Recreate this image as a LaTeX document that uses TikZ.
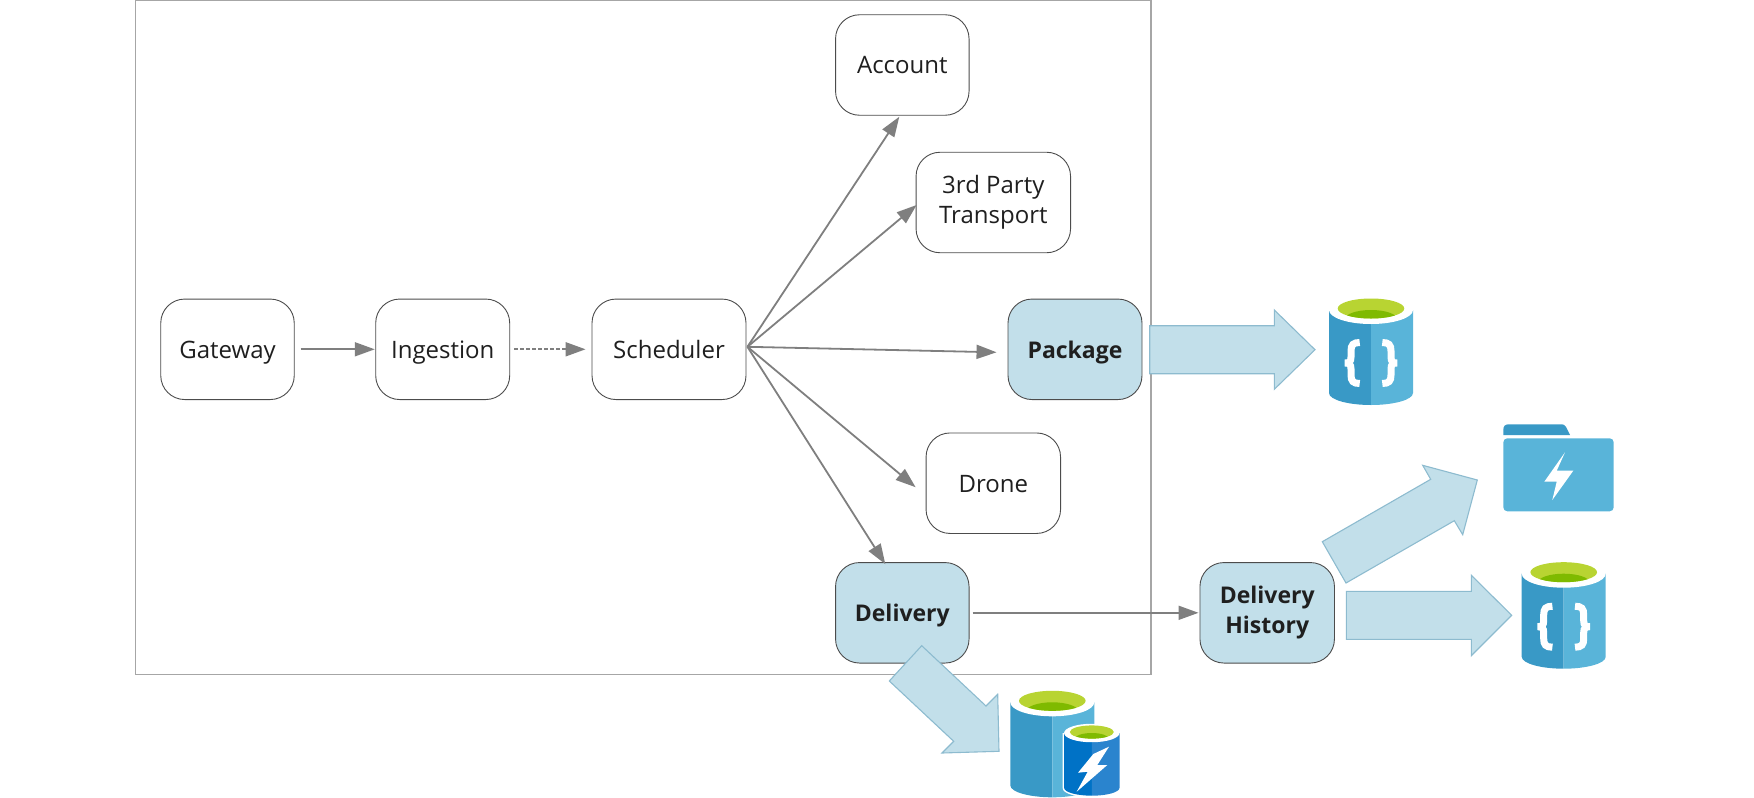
\documentclass[tikz,border=0pt]{standalone}
\usepackage{fontspec}
\setmainfont{Open Sans}
\usetikzlibrary{arrows.meta,calc}
\definecolor{boxfill}{HTML}{C2DFEA}
\definecolor{arrowline}{HTML}{8DBBCF}
\definecolor{conn}{HTML}{7F7F7F}
\definecolor{azdark}{HTML}{3999C6}
\definecolor{azlight}{HTML}{59B4D9}
\definecolor{lime}{HTML}{B8D432}
\definecolor{limedark}{HTML}{7FBA00}
\definecolor{bluedark}{HTML}{0072C6}
\definecolor{bluelight}{HTML}{2A84CE}
\newcommand{\dbbody}[5]{%
\begin{scope}[shift={(#1,#2)},scale=#3]
 \fill[#4] (-42,0) -- (-42,83) .. controls (-42,90) and (-22,95) .. (0,95) -- (0,0) -- cycle;
 \fill[#5] (42,0) -- (42,83) .. controls (42,90) and (22,95) .. (0,95) -- (0,0) -- cycle;
 \fill[white] (0,0) ellipse [x radius=42,y radius=14];
 \fill[lime] (0,-1.5) ellipse [x radius=33.3,y radius=10];
 \begin{scope}
  \clip (0,-1.5) ellipse [x radius=33.3,y radius=10];
  \fill[limedark] (0,9) ellipse [x radius=26,y radius=9];
 \end{scope}
\end{scope}}
\newcommand{\dbbraces}[2]{%
\begin{scope}[shift={(#1,#2)}]
 \draw[white,line width=7pt] (-11.3,32.5) .. controls (-18,32.5) and (-20,35) .. (-20,41) -- (-20,47) .. controls (-20,52) and (-22,53) .. (-26,53) .. controls (-22,53) and (-20,54) .. (-20,59) -- (-20,65) .. controls (-20,71) and (-18,73.5) .. (-11.3,73.5);
 \draw[white,line width=7pt] (11.3,32.5) .. controls (18,32.5) and (20,35) .. (20,41) -- (20,47) .. controls (20,52) and (22,53) .. (26,53) .. controls (22,53) and (20,54) .. (20,59) -- (20,65) .. controls (20,71) and (18,73.5) .. (11.3,73.5);
\end{scope}}
\newcommand{\tstrut}{\rule{0pt}{26.5pt}}
\newcommand{\bstrut}{\rule[-8.7pt]{0pt}{8.7pt}}
\newcommand{\lowln}[1]{\raisebox{-2.5pt}{#1}}
\tikzset{
 svc/.style={draw=black!70,line width=0.9pt,rounded corners=24pt,fill=white,text=black!88,font=\fontsize{24}{30}\selectfont,align=center,inner sep=0pt,minimum height=100.5pt,execute at begin node=\tstrut,execute at end node=\bstrut},
 hot/.style={svc,fill=boxfill,font=\fontsize{23}{30}\selectfont\bfseries},
 link/.style={draw=conn,line width=1.8pt,-{Triangle[length=20pt,width=14pt]}},
 blockarrow/.style={fill=boxfill,draw=arrowline,line width=1.1pt,line join=miter}
}
\begin{document}
\begin{tikzpicture}[x=1pt,y=-1pt]
\useasboundingbox (0,0) rectangle (1754,798);
\node[svc,minimum width=133.5pt] (gw) at (227.5,349.3) {Gateway};
\node[svc,minimum width=134pt] (ing) at (442.7,349.3) {Ingestion};
\node[svc,minimum width=154pt] (sch) at (669,349.3) {Scheduler};
\node[svc,minimum width=133.5pt] (acc) at (902.3,65) {Account};
\node[svc,minimum width=154.5pt] (tpt) at (993.3,202.5) {\lowln{3rd Party}\\\lowln{Transport}};
\node[hot,minimum width=134pt] (pkg) at (1075,349.3) {Package};
\node[svc,minimum width=134.5pt] (drn) at (993.3,483.2) {Drone};
\node[hot,minimum width=133.5pt] (dlv) at (902.3,612.8) {Delivery};
\node[hot,minimum width=134.5pt] (hst) at (1267.2,612.8) {\lowln{Delivery}\\\lowln{History}};
\draw[draw=black!35,line width=1.4pt] (135.5,0.7) rectangle (1151,674.3);
\draw[link] ([xshift=6pt]gw.east) -- ([xshift=-0.5pt]ing.west);
\draw[draw=conn,line width=1.8pt,dash pattern=on 4pt off 2pt,-{Triangle[length=20pt,width=14pt]}] ([xshift=4pt]ing.east) -- ([xshift=-6pt]sch.west);
\draw[link] ([xshift=1pt,yshift=2.5pt]sch.east) -- ([xshift=-3pt,yshift=-1pt]acc.south);
\draw[link] ([xshift=1pt,yshift=2.5pt]sch.east) -- ([xshift=1pt,yshift=-2.5pt]tpt.west);
\draw[link] ([xshift=1pt,yshift=2.5pt]sch.east) -- ([xshift=-11pt,yshift=-3pt]pkg.west);
\draw[link] ([xshift=1pt,yshift=2.5pt]sch.east) -- ([xshift=-10pt,yshift=-4pt]drn.west);
\draw[link] ([xshift=1pt,yshift=2.5pt]sch.east) -- ([xshift=-17pt,yshift=-2pt]dlv.north);
\draw[link] ([xshift=3pt]dlv.east) -- ([xshift=-1pt]hst.west);
\draw[blockarrow] (1149.7,325.7) -- (1274.3,325.7) -- (1274.3,310) -- (1315,349.7) -- (1274.3,389.3) -- (1274.3,373.7) -- (1149.7,373.7) -- cycle;
\draw[blockarrow] (1322.3,541.7) -- (1430.7,479.3) -- (1422.7,465.3) -- (1477.3,480) -- (1462.7,534.7) -- (1454.3,520.7) -- (1346,583) -- cycle;
\draw[blockarrow] (1346.3,591.3) -- (1471.3,591.3) -- (1471.3,575.3) -- (1511.7,615.3) -- (1471.3,655.7) -- (1471.3,639.3) -- (1346.3,639.3) -- cycle;
\draw[blockarrow] (921.7,645.7) -- (986,706) -- (997.7,694.3) -- (999,751.3) -- (942,753) -- (953.7,741.3) -- (889.3,681) -- cycle;
\dbbody{1371}{310}{1}{azdark}{azlight}
\dbbraces{1371}{310}
\dbbody{1563.7}{573.7}{1}{azdark}{azlight}
\dbbraces{1563.7}{573.7}
\fill[azdark] (1503.3,435) -- (1503.3,430) .. controls (1503.3,426) and (1505,424.3) .. (1509,424.3) -- (1560,424.3) .. controls (1564,424.3) and (1565,425) .. (1566,427) -- (1570,435) -- cycle;
\fill[azlight,rounded corners=4pt] (1503.3,438.3) rectangle (1613.7,511.3);
\fill[white] (1565,452.3) -- (1556.7,470.7) -- (1573.3,470.7) -- (1552.3,500) -- (1556.7,481.7) -- (1544.3,481.7) -- cycle;
\dbbody{1052.3}{702.3}{1}{azdark}{azlight}
\begin{scope}[shift={(1091.8,733)},scale=0.66]
 \draw[white,line width=3pt] (-42,0) -- (-42,83) .. controls (-42,90) and (-22,95) .. (0,95) .. controls (22,95) and (42,90) .. (42,83) -- (42,0);
\end{scope}
\dbbody{1091.8}{733}{0.66}{bluedark}{bluelight}
\fill[white] (1109,746.7) -- (1097.3,765) -- (1107.3,765) -- (1076.7,791.7) -- (1087.7,771.7) -- (1078,772.7) -- (1093.3,754) -- cycle;
\end{tikzpicture}
\end{document}
